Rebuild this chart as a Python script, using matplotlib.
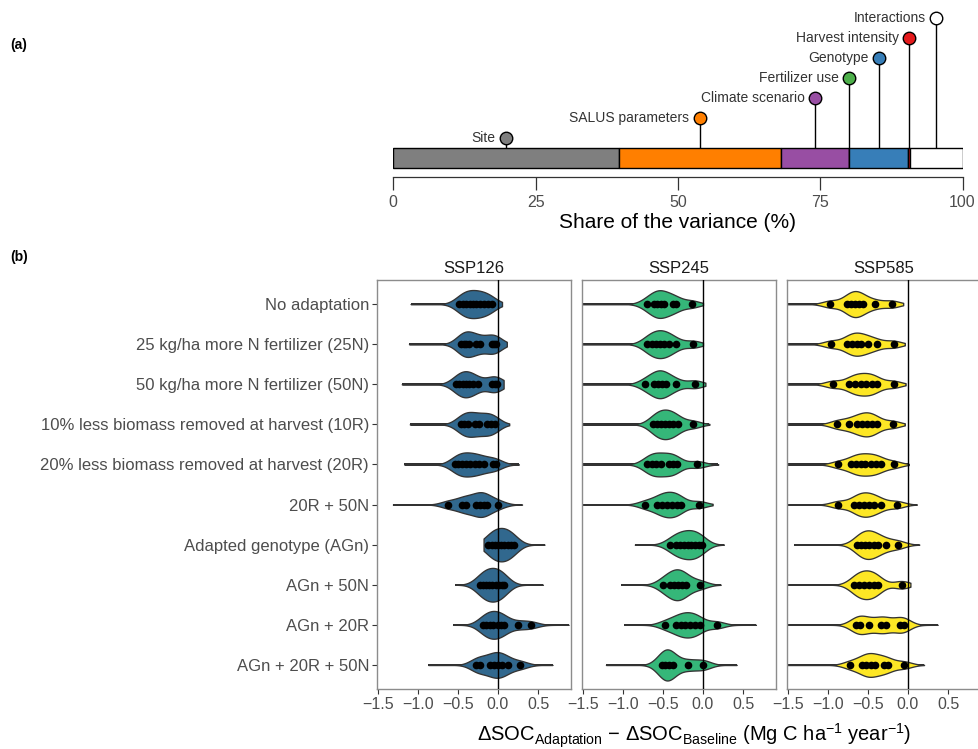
import numpy as np
import matplotlib
matplotlib.use("Agg")
import matplotlib.pyplot as plt

# --- 1. DATA ---

# panel (a): share of the variance explained by each factor (%)
COMPONENTS = ["Site", "SALUS parameters", "Climate scenario", "Fertilizer use",
              "Genotype", "Harvest intensity", "Interactions"]
SHARES = [39.6, 28.5, 11.9, 0.1, 10.4, 0.2, 9.3]
COMPONENT_COLORS = ["#7f7f7f", "#ff7f00", "#984ea3", "#4daf4a",
                    "#377eb8", "#e41a1c", "#ffffff"]

# panel (b): adaptation effect on SOC change (Mg C ha-1 year-1)
SCENARIOS = ["SSP126", "SSP245", "SSP585"]
SCENARIO_COLORS = ["#31688e", "#35b779", "#fde725"]
ADAPTATIONS = [
    "No adaptation",
    "25 kg/ha more N fertilizer (25N)",
    "50 kg/ha more N fertilizer (50N)",
    "10% less biomass removed at harvest (10R)",
    "20% less biomass removed at harvest (20R)",
    "20R + 50N",
    "Adapted genotype (AGn)",
    "AGn + 50N",
    "AGn + 20R",
    "AGn + 20R + 50N",
]

SSP126_POINTS = [
    [-0.48, -0.44, -0.40, -0.35, -0.31, -0.27, -0.22, -0.17, -0.12, -0.07],
    [-0.46, -0.43, -0.40, -0.36, -0.27, -0.23, -0.08, -0.05, -0.03],
    [-0.52, -0.48, -0.44, -0.40, -0.36, -0.31, -0.25, -0.07, -0.04, -0.01],
    [-0.46, -0.42, -0.37, -0.29, -0.24, -0.14, -0.09, -0.04],
    [-0.54, -0.50, -0.45, -0.40, -0.35, -0.29, -0.24, -0.18, -0.06, -0.02],
    [-0.62, -0.45, -0.40, -0.28, -0.23, -0.18, -0.14, 0.00],
    [-0.12, -0.08, -0.04, 0.00, 0.04, 0.08, 0.12, 0.16, 0.20],
    [-0.23, -0.19, -0.15, -0.11, -0.07, -0.03, 0.01, 0.05, 0.08],
    [-0.19, -0.15, -0.10, -0.06, 0.00, 0.04, 0.08, 0.25, 0.41],
    [-0.27, -0.23, -0.10, -0.05, 0.00, 0.05, 0.12, 0.28],
]
SSP126_RANGE = [(-1.09, 0.05), (-1.11, 0.11), (-1.20, 0.07), (-1.10, 0.14), (-1.17, 0.26),
                (-1.31, 0.30), (-0.18, 0.58), (-0.53, 0.56), (-0.56, 0.88), (-0.87, 0.68)]

SSP245_POINTS = [
    [-0.70, -0.61, -0.57, -0.52, -0.49, -0.38, -0.34, -0.14],
    [-0.70, -0.64, -0.58, -0.53, -0.48, -0.43, -0.34, -0.12],
    [-0.72, -0.61, -0.56, -0.51, -0.46, -0.34, -0.10],
    [-0.62, -0.57, -0.52, -0.47, -0.42, -0.37, -0.31, -0.12],
    [-0.70, -0.64, -0.58, -0.52, -0.43, -0.38, -0.32, -0.07],
    [-0.72, -0.57, -0.51, -0.45, -0.39, -0.33, -0.28, -0.05],
    [-0.41, -0.34, -0.29, -0.24, -0.19, -0.15, -0.10, -0.05, -0.01],
    [-0.50, -0.41, -0.36, -0.31, -0.26, -0.21, -0.04],
    [-0.47, -0.34, -0.28, -0.22, -0.16, -0.10, -0.04, 0.17],
    [-0.51, -0.47, -0.43, -0.38, -0.19, 0.00],
]
SSP245_RANGE = [(-1.60, 0.00), (-1.60, 0.00), (-1.60, 0.03), (-1.60, 0.08), (-1.60, 0.19),
                (-1.60, 0.12), (-0.85, 0.26), (-1.02, 0.22), (-0.98, 0.66), (-1.21, 0.42)]

SSP585_POINTS = [
    [-0.97, -0.76, -0.71, -0.66, -0.61, -0.56, -0.41, -0.20],
    [-0.96, -0.76, -0.70, -0.64, -0.58, -0.50, -0.39, -0.18],
    [-0.94, -0.73, -0.66, -0.59, -0.52, -0.45, -0.39, -0.18],
    [-0.89, -0.74, -0.63, -0.57, -0.51, -0.45, -0.39, -0.19],
    [-0.87, -0.71, -0.65, -0.59, -0.53, -0.46, -0.40, -0.34, -0.17],
    [-0.87, -0.67, -0.61, -0.55, -0.49, -0.43, -0.34, -0.14],
    [-0.63, -0.58, -0.53, -0.48, -0.43, -0.38, -0.27, -0.12],
    [-0.67, -0.61, -0.55, -0.49, -0.43, -0.37, -0.08],
    [-0.65, -0.60, -0.49, -0.34, -0.28, -0.10, -0.05],
    [-0.72, -0.57, -0.52, -0.46, -0.41, -0.30, -0.25, -0.05],
]
SSP585_RANGE = [(-1.60, -0.06), (-1.60, -0.04), (-1.60, -0.03), (-1.60, -0.04), (-1.60, 0.01),
                (-1.60, 0.11), (-1.42, 0.14), (-1.60, 0.03), (-1.60, 0.37), (-1.60, 0.20)]

X_TICKS = [-1.5, -1.0, -0.5, 0.0, 0.5]
VAR_TICKS = [0, 25, 50, 75, 100]

# --- 2. STYLE ---

W, H = 979, 749
plt.rcParams["font.family"] = ["Liberation Sans", "DejaVu Sans"]
plt.rcParams["mathtext.fontset"] = "custom"
plt.rcParams["mathtext.rm"] = "Liberation Sans"
plt.rcParams["mathtext.it"] = "Liberation Sans:italic"
plt.rcParams["mathtext.bf"] = "Liberation Sans:bold"

TEXT_GREY = "#4d4d4d"
LINE_DARK = "#333333"
KDE_BW = 0.1


def px_rect(left, top, right, bottom):
    """Pixel box (from the top-left corner) -> figure fraction rect."""
    return [left / W, 1 - bottom / H, (right - left) / W, (bottom - top) / H]


def kde(points, grid, bw=KDE_BW):
    pts = np.asarray(points)[:, None]
    z = (grid[None, :] - pts) / bw
    return np.exp(-0.5 * z ** 2).sum(axis=0) / (len(points) * bw * np.sqrt(2 * np.pi))


# --- 3. PANEL (a) ---

def draw_variance_panel(fig):
    ax = fig.add_axes(px_rect(393.3, 4.3, 962.5, 176.7))
    starts = np.concatenate([[0], np.cumsum(SHARES)[:-1]])
    ax.barh(0.5, SHARES, left=starts, height=1.0, color=COMPONENT_COLORS,
            edgecolor="black", linewidth=1.0, zorder=2)

    centers = starts + np.asarray(SHARES) / 2
    for k, (name, cx, col) in enumerate(zip(COMPONENTS, centers, COMPONENT_COLORS)):
        level = 1.5 + k
        ax.plot([cx, cx], [1.0, level], color="black", lw=1.0, zorder=1)
        ax.plot(cx, level, "o", ms=9, mfc=col, mec="black", mew=1.0, zorder=3)
        ax.annotate(name, (cx, level), xytext=(-7.5, 0), textcoords="offset points",
                    ha="right", va="center", fontsize=10, color=LINE_DARK)

    ax.set_xlim(0, 100)
    ax.set_ylim(-0.42, 8.2)
    for side in ("top", "left", "right"):
        ax.spines[side].set_visible(False)
    ax.spines["bottom"].set_color(LINE_DARK)
    ax.spines["bottom"].set_linewidth(0.9)
    ax.set_yticks([])
    ax.set_xticks(VAR_TICKS)
    ax.tick_params(axis="x", length=9, width=0.9, color=LINE_DARK,
                   labelsize=11.5, labelcolor=TEXT_GREY, pad=4)
    ax.set_xlabel("Share of the variance (%)", fontsize=15, labelpad=2)
    ax.patch.set_alpha(0)


# --- 4. PANEL (b) ---

def draw_violin_panel(ax, points, ranges, color, scale, show_labels):
    rows = np.arange(1, len(points) + 1)
    for y, pts, (lo, hi) in zip(rows, points, ranges):
        grid = np.linspace(lo, hi, 500)
        half = kde(pts, grid) * scale
        ax.hlines(y, lo, hi, color="#1a1a1a", lw=1.3, zorder=1)
        ax.fill_between(grid, y - half, y + half, facecolor=color,
                        edgecolor=LINE_DARK, linewidth=0.95, zorder=2)
        ax.plot(pts, np.full(len(pts), y), "o", ms=5.5, color="black",
                mec="none", zorder=4)
    ax.axvline(0, color="black", lw=1.0, zorder=3)

    ax.set_xlim(-1.512, 0.91)
    ax.set_ylim(len(points) + 0.6, 0.4)
    ax.set_xticks(X_TICKS)
    ax.set_xticklabels([f"{v:.1f}".replace("-", "\u2212") for v in X_TICKS])
    ax.tick_params(axis="x", length=3.5, width=0.8, color=LINE_DARK,
                   labelsize=11.5, labelcolor=TEXT_GREY, pad=2)
    ax.set_yticks(rows)
    if show_labels:
        ax.set_yticklabels(ADAPTATIONS)
        ax.tick_params(axis="y", length=3.5, width=0.8, color=LINE_DARK,
                       labelsize=12, labelcolor=TEXT_GREY, pad=2)
    else:
        ax.tick_params(axis="y", left=False, labelleft=False)
    for sp in ax.spines.values():
        sp.set_color("#8c8c8c")
        sp.set_linewidth(1.0)


def main():
    fig = plt.figure(figsize=(W / 100, H / 100), dpi=100)
    fig.patch.set_facecolor("white")

    draw_variance_panel(fig)

    all_points = [SSP126_POINTS, SSP245_POINTS, SSP585_POINTS]
    all_ranges = [SSP126_RANGE, SSP245_RANGE, SSP585_RANGE]

    # area-scaled violins: the densest violin gets half-width 0.42 row
    peak = max(kde(p, np.linspace(lo, hi, 500)).max()
               for pts_set, rng_set in zip(all_points, all_ranges)
               for p, (lo, hi) in zip(pts_set, rng_set))
    scale = 0.42 / peak

    lefts = [376.7, 581.7, 786.7]
    for j, (name, col) in enumerate(zip(SCENARIOS, SCENARIO_COLORS)):
        ax = fig.add_axes(px_rect(lefts[j], 280, lefts[j] + 194.3, 689))
        draw_violin_panel(ax, all_points[j], all_ranges[j], col, scale, j == 0)
        ax.set_title(name, fontsize=12, color="#1a1a1a", pad=5)

    fig.text(694 / W, 1 - 736 / H,
             "\u0394SOC$_{\\mathrm{Adaptation}}$ \u2212 \u0394SOC$_{\\mathrm{Baseline}}$"
             " (Mg C ha$^{-1}$ year$^{-1}$)",
             ha="center", va="center", fontsize=14.5)

    fig.text(10 / W, 1 - 45 / H, "(a)", fontsize=10, fontweight="bold",
             ha="left", va="center")
    fig.text(10 / W, 1 - 257 / H, "(b)", fontsize=10, fontweight="bold",
             ha="left", va="center")

    fig.savefig("out.png", dpi=100)
    plt.close(fig)


if __name__ == "__main__":
    main()
